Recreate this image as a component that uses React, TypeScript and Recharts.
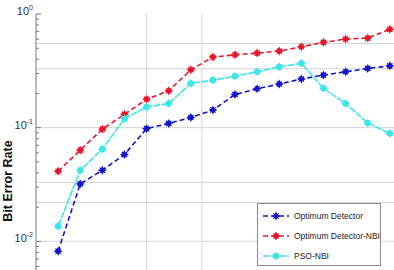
import { CartesianGrid, Line, LineChart, ReferenceLine, XAxis, YAxis } from 'recharts';

const snr = [2, 4, 6, 8, 10, 12, 14, 16, 18, 20, 22, 24, 26, 28, 30, 32];
const optimum = [0.0082, 0.032, 0.0422, 0.058, 0.098, 0.109, 0.123, 0.143, 0.196, 0.22, 0.242, 0.268, 0.29, 0.31, 0.332, 0.35];
const optimumNbi = [0.0414, 0.0634, 0.097, 0.131, 0.178, 0.211, 0.323, 0.418, 0.438, 0.453, 0.472, 0.515, 0.563, 0.602, 0.614, 0.733];
const psoNbi = [0.0136, 0.0422, 0.0647, 0.12, 0.152, 0.163, 0.245, 0.262, 0.284, 0.31, 0.343, 0.368, 0.222, 0.163, 0.11, 0.089];

const xTicks = [0, 5, 10, 15, 20, 25, 30, 35];
const xGrid = [10, 15];
const yGrid = [0.55, 0.33, 0.1, 0.033, 0.022, 0.01];
const decades = [0.001, 0.01, 0.1];
const yTicks = [...decades.flatMap((d) => [1, 2, 3, 4, 5, 6, 7, 8, 9].map((k) => d * k)), 1];

const SERIES = [
  { key: 'optimum', name: 'Optimum Detector', color: '#1414c8', dash: '5 3' },
  { key: 'optimumNbi', name: 'Optimum Detector-NBI', color: '#e8142a', dash: '5 3' },
  { key: 'psoNbi', name: 'PSO-NBI', color: '#3ee6e6', dash: '7 1' },
] as const;

const data = snr.map((s, i) => ({ snr: s, optimum: optimum[i], optimumNbi: optimumNbi[i], psoNbi: psoNbi[i] }));

const FONT = '"Liberation Sans", Arial, sans-serif';

function Marker({ cx, cy, color, round }: { cx: number; cy: number; color: string; round?: boolean }) {
  if (cx == null || cy == null) return null;
  const o = 4.5;
  const n = 1.6;
  const d = `M${cx},${cy - o} L${cx + n},${cy - n} L${cx + o},${cy} L${cx + n},${cy + n} L${cx},${cy + o} L${cx - n},${cy + n} L${cx - o},${cy} L${cx - n},${cy - n} Z`;
  return (
    <g>
      <path d={d} fill={color} />
      {round ? <circle cx={cx} cy={cy} r={3} fill={color} /> : null}
      <path
        d={`M${cx - 2.6},${cy - 2.6} L${cx + 2.6},${cy + 2.6} M${cx - 2.6},${cy + 2.6} L${cx + 2.6},${cy - 2.6}`}
        stroke={color}
        strokeWidth={1.3}
      />
    </g>
  );
}

// minor ticks point into the plot, only 10^0..10^-2 get a label
function YTick({ x, y, payload }: any) {
  const v = payload.value as number;
  const lg = Math.log10(v);
  const exp = Math.round(lg);
  const major = Math.abs(lg - exp) < 1e-6;
  return (
    <g>
      <line x1={x} x2={x + (major ? 5 : 3)} y1={y} y2={y} stroke="#777" strokeWidth={1} />
      {major && exp >= -2 ? (
        <text x={x - 3} y={y + 1} textAnchor="end" fontSize={11} fill="#333" fontFamily={FONT}>
          10
          <tspan dy={-5} fontSize={7}>
            {exp}
          </tspan>
        </text>
      ) : null}
    </g>
  );
}

function LegendBox() {
  return (
    <div
      style={{
        position: 'absolute',
        left: 257,
        top: 203,
        width: 124,
        height: 63,
        border: '1px solid #8a8a8a',
        background: '#fff',
        fontFamily: FONT,
        fontSize: 8.5,
        color: '#222',
        boxSizing: 'border-box',
        paddingTop: 2,
      }}
    >
      {SERIES.map((s) => (
        <div key={s.key} style={{ display: 'flex', alignItems: 'center', height: 20 }}>
          <svg width={34} height={10} style={{ marginRight: 2 }}>
            <line x1={5} x2={31} y1={5} y2={5} stroke={s.color} strokeWidth={1.5} strokeDasharray={s.dash} />
            <Marker cx={18} cy={5} color={s.color} round={s.key === 'psoNbi'} />
          </svg>
          <span>{s.name}</span>
        </div>
      ))}
    </div>
  );
}

export default function App() {
  return (
    <div
      style={{
        position: 'absolute',
        left: 0,
        top: 0,
        width: 394,
        height: 270,
        overflow: 'hidden',
        background: '#fff',
      }}
    >
      <LineChart width={430} height={360} data={data} margin={{ top: 14, right: 7, bottom: 5, left: 0 }}>
        <CartesianGrid stroke="none" />
        <XAxis
          dataKey="snr"
          type="number"
          domain={[0, 35]}
          ticks={xTicks}
          orientation="top"
          height={0}
          mirror
          tickSize={3}
          tickFormatter={() => ''}
          stroke="#9a9a9a"
        />
        <YAxis
          type="number"
          scale="log"
          domain={[0.001, 1]}
          ticks={yTicks}
          allowDataOverflow
          width={36}
          tickSize={0}
          tickMargin={0}
          tick={<YTick />}
          tickLine={false}
          stroke="#777"
          interval={0}
        />
        {yGrid.map((v) => (
          <ReferenceLine key={`h${v}`} y={v} stroke="#d4d4d4" strokeWidth={1} />
        ))}
        {xGrid.map((v) => (
          <ReferenceLine key={`v${v}`} x={v} stroke="#d4d4d4" strokeWidth={1} />
        ))}
        {SERIES.map((s) => (
          <Line
            key={s.key}
            dataKey={s.key}
            name={s.name}
            stroke={s.color}
            strokeWidth={1.6}
            strokeDasharray={s.dash}
            isAnimationActive={false}
            dot={(p: any) => <Marker key={`${s.key}${p.index}`} cx={p.cx} cy={p.cy} color={s.color} round={s.key === 'psoNbi'} />}
          />
        ))}
      </LineChart>
      <LegendBox />
      <div
        style={{
          position: 'absolute',
          left: 8,
          top: 181,
          transform: 'translate(-50%, -50%) rotate(-90deg)',
          fontFamily: FONT,
          fontWeight: 'bold',
          fontSize: 12.5,
          color: '#111',
          whiteSpace: 'nowrap',
        }}
      >
        Bit Error Rate
      </div>
    </div>
  );
}
